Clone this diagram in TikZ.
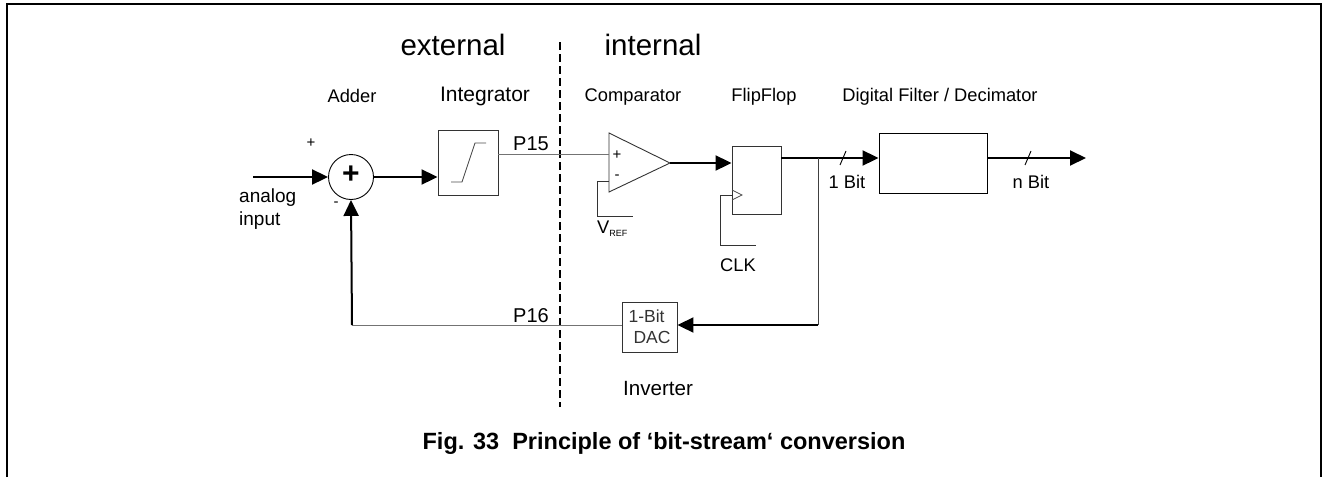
\documentclass[tikz,border=0pt]{standalone}
\usepackage{fontspec}
\setmainfont{Liberation Sans}
\usetikzlibrary{arrows.meta}
\tikzset{
  thickline/.style={line width=2pt, black},
  thinline/.style={line width=0.9pt, black!55},
  arr/.style={-{Triangle[length=16pt,width=15pt]}},
  blockbox/.style={draw, line width=0.9pt, black!80, inner sep=0pt},
  lbl/.style={inner sep=0pt, font=\fontsize{18.3}{22}\selectfont},
  biglbl/.style={inner sep=0pt, font=\fontsize{29.5}{34}\selectfont},
  smalllbl/.style={inner sep=0pt, font=\fontsize{15}{17}\selectfont},
}
\begin{document}
\begin{tikzpicture}[x=1pt,y=-1pt]
\useasboundingbox (0,0) rectangle (1323,477);
% frame
\draw[line width=2.5pt] (7,477) -- (7,4) -- (1321,4) -- (1321,477);
% dashed separator
\coordinate (dtop) at (560,42);
\coordinate (dbot) at (560,407);
\draw[line width=1.5pt, dash pattern=on 8pt off 4pt] (dtop) -- (dbot);
\node[biglbl] (ext) at (453,45) {external};
\node[biglbl] (int) at (653,45) {internal};

% blocks
\node[draw, circle, line width=0.9pt, minimum size=45pt, inner sep=0pt] (adder) at (351,177) {};
\node[inner sep=0pt, font=\fontsize{30}{30}\bfseries\selectfont] (plus) at (351,175) {+};
\node[blockbox, minimum width=60pt, minimum height=65pt] (integ) at (468,162.5) {};
\node[blockbox, minimum width=49pt, minimum height=68pt] (ff) at (756.5,180) {};
\node[blockbox, minimum width=108pt, minimum height=60pt, black] (filt) at (933,163) {};
\node[blockbox, minimum width=55pt, minimum height=50pt, align=left, font=\fontsize{17.5}{21}\selectfont] (dac) at (649.5,327) {1-Bit\\\hspace*{5pt}DAC};

% comparator
\coordinate (ctl) at (609,133);
\coordinate (cbl) at (609,192);
\coordinate (ctip) at (670,163);
\draw[line width=0.9pt, black!80, line join=miter] (ctl) -- (ctip) -- (cbl) -- cycle;
\coordinate (cplus) at (609,154);
\coordinate (cminus) at (609,181);
\node[smalllbl] (cp) at (617,155) {+};
\node[smalllbl] (cm) at (617,177) {-};
\coordinate (vr1) at (597,181);
\coordinate (vr2) at (597,216);
\coordinate (vr3) at (633,216);
\draw[thinline, black!80] (cminus) -- (vr1) -- (vr2) -- (vr3);
\node[inner sep=0pt, anchor=west, font=\fontsize{18.3}{22}\selectfont] (vref) at (597,229) {V\raisebox{-3pt}{\fontsize{9}{9}\selectfont REF}};

% integrator symbol
\draw[thinline, black!70] (451,182) -- (462,182) -- (475,143) -- (486,143);

% flipflop clock
\coordinate (ck1) at (732,190);
\coordinate (ck2) at (742,195);
\coordinate (ck3) at (732,200);
\draw[line width=0.8pt, black!70] (ck1) -- (ck2) -- (ck3);
\coordinate (cl1) at (732,195);
\coordinate (cl2) at (720,195);
\coordinate (cl3) at (720,245);
\coordinate (cl4) at (756,245);
\draw[thinline, black!80] (cl1) -- (cl2) -- (cl3) -- (cl4);
\node[lbl] (clk) at (738,265) {CLK};

% labels
\node[lbl] (ladder) at (352,96) {Adder};
\node[inner sep=0pt, font=\fontsize{21}{25}\selectfont] (linteg) at (485,96) {Integrator};
\node[lbl] (lcomp) at (633,97) {Comparator};
\node[lbl] (lff) at (764,97) {FlipFlop};
\node[lbl] (lfilt) at (940,97) {Digital Filter / Decimator};
\node[inner sep=0pt, font=\fontsize{20}{24}\selectfont] (p15) at (531,144) {P15};
\node[inner sep=0pt, font=\fontsize{20}{24}\selectfont] (p16) at (531,316) {P16};
\node[lbl] (b1) at (847,182) {1 Bit};
\node[lbl] (bn) at (1031,182) {n Bit};
\node[inner sep=0pt, font=\fontsize{20.6}{24}\selectfont] (inv) at (658,389) {Inverter};
\node[inner sep=0pt, anchor=west, align=left, font=\fontsize{19}{22.5}\selectfont] (ain) at (239,209) {analog\\input};
\node[smalllbl] (pl) at (311,143) {+};
\node[smalllbl] (mi) at (336,204) {-};
\node[inner sep=0pt, font=\fontsize{23.5}{28}\bfseries\selectfont] (cap) at (664,443) {Fig. 33\ \ Principle of ‘bit-stream‘ conversion};

% signal connections
\coordinate (inp) at (253,177);
\draw[thickline, arr] (inp) -- (adder.west);
\draw[thickline, arr] (adder.east) -- (integ.west |- adder.east);
\draw[thinline] (integ.east |- cplus) -- (cplus);
\draw[thickline, arr] (ctip) -- (ff.west |- ctip);
\coordinate (ffo) at (781,158);
\coordinate (junc) at (818,158);
\draw[thickline, arr] (ffo) -- (filt.west |- ffo);
\coordinate (fo) at (987,158);
\coordinate (outp) at (1086,158);
\draw[thickline, arr] (fo) -- (outp);
% bus slashes
\draw[line width=0.9pt] (840,165) -- (846,151);
\draw[line width=0.9pt] (1025,165) -- (1031,151);
% feedback
\coordinate (fb1) at (818,325);
\coordinate (fb2) at (352,325);
\draw[thinline, black!75] (junc) -- (fb1);
\draw[thickline, arr] (fb1) -- (dac.east |- fb1);
\draw[thinline] (dac.west |- fb1) -- (fb2);
\draw[thickline, arr] (fb2) -- (adder.south);
\end{tikzpicture}
\end{document}
